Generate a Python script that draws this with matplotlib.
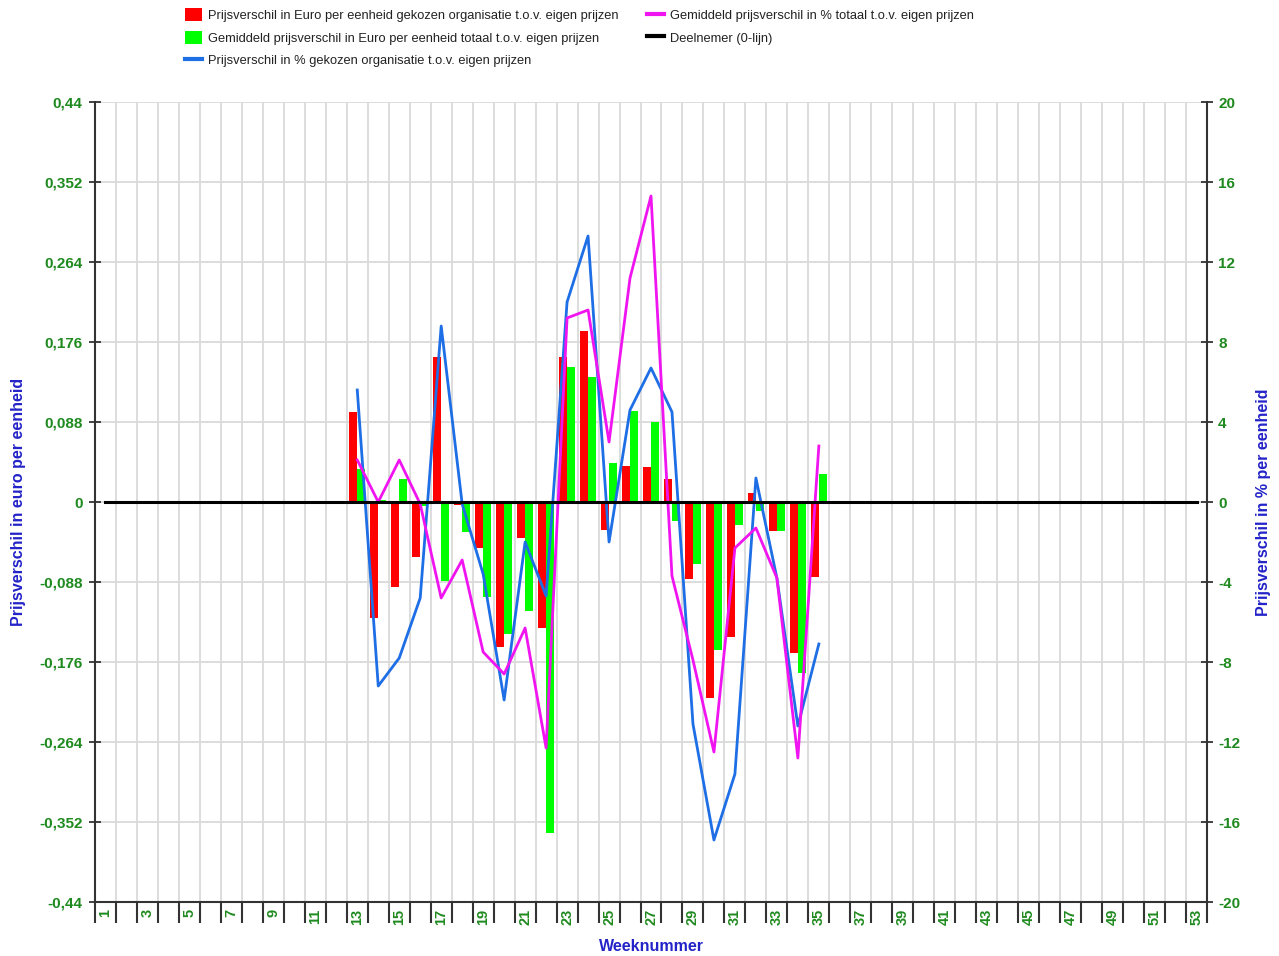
import matplotlib
matplotlib.use("Agg")
import matplotlib.pyplot as plt
from matplotlib.patches import Patch
from matplotlib.lines import Line2D
from matplotlib.ticker import FixedLocator

# ── Data ───────────────────────────────────────────────────────────────────────
weeks = [13, 14, 15, 16, 17, 18, 19, 20, 21, 22, 23, 24,
         25, 26, 27, 28, 29, 30, 31, 32, 33, 34, 35]

# Prijsverschil in Euro per eenheid gekozen organisatie (left axis)
euro_org = [0.099, -0.128, -0.094, -0.060, 0.159, -0.003, -0.051, -0.159,
            -0.040, -0.139, 0.160, 0.188, -0.031, 0.040, 0.038, 0.025,
            -0.085, -0.216, -0.148, 0.010, -0.032, -0.166, -0.083]

# Gemiddeld prijsverschil in Euro per eenheid totaal (left axis)
euro_avg = [0.036, 0.002, 0.025, -0.004, -0.087, -0.033, -0.105, -0.145,
            -0.120, -0.364, 0.148, 0.137, 0.043, 0.100, 0.088, -0.021,
            -0.068, -0.163, -0.025, -0.010, -0.032, -0.188, 0.031]

# Prijsverschil in % gekozen organisatie (right axis)
pct_org = [5.6, -9.2, -7.8, -4.8, 8.8, -0.1, -3.6, -9.9, -2.0, -4.7, 10.0, 13.3,
           -2.0, 4.6, 6.7, 4.5, -11.1, -16.9, -13.6, 1.2, -3.8, -11.2, -7.1]

# Gemiddeld prijsverschil in % totaal (right axis)
pct_avg = [2.1, 0.0, 2.1, -0.1, -4.8, -2.9, -7.5, -8.6, -6.3, -12.3, 9.2, 9.6,
           3.0, 11.2, 15.3, -3.7, -7.9, -12.5, -2.3, -1.3, -3.8, -12.8, 2.8]

all_weeks = list(range(1, 54))
zero_line = [0] * len(all_weeks)

left_ticks = [0.44, 0.352, 0.264, 0.176, 0.088, 0, -0.088, -0.176, -0.264, -0.352, -0.44]
left_labels = ["0,44", "0,352", "0,264", "0,176", "0,088", "0",
               "-0,088", "-0,176", "-0,264", "-0,352", "-0,44"]
right_ticks = [20, 16, 12, 8, 4, 0, -4, -8, -12, -16, -20]

LABELS = [
    "Prijsverschil in Euro per eenheid gekozen organisatie t.o.v. eigen prijzen",
    "Gemiddeld prijsverschil in Euro per eenheid totaal t.o.v. eigen prijzen",
    "Prijsverschil in % gekozen organisatie t.o.v. eigen prijzen",
    "Gemiddeld prijsverschil in % totaal t.o.v. eigen prijzen",
    "Deelnemer (0-lijn)",
]

# ── Style ──────────────────────────────────────────────────────────────────────
RED = "#ff0000"
GREEN = "#00ff00"
BLUE = "#1e6ee6"
MAGENTA = "#f014f0"
TICK_GREEN = "#1f8a1f"
TITLE_BLUE = "#2323c8"
GRID = "#dadada"
SPINE = "#333333"

plt.rcParams["font.family"] = ["Liberation Sans", "DejaVu Sans"]

fig = plt.figure(figsize=(12.79, 9.56), dpi=100)
ax = fig.add_axes([95 / 1279, 1 - 902 / 956, (1207 - 95) / 1279, 800 / 956])
ax2 = ax.twinx()

# bars
bar_w = 0.38
ax.bar([w - 0.2 for w in weeks], euro_org, width=bar_w, color=RED, zorder=2)
ax.bar([w + 0.2 for w in weeks], euro_avg, width=bar_w, color=GREEN, zorder=2)

# lines on right axis
ax2.plot(weeks, pct_org, color=BLUE, lw=2.0, zorder=3)
ax2.plot(weeks, pct_avg, color=MAGENTA, lw=2.0, zorder=3)
ax2.plot(all_weeks, zero_line, color="black", lw=2.2, zorder=4)

# axes ranges
ax.set_xlim(0.5, 53.5)
ax.set_ylim(-0.44, 0.44)
ax2.set_ylim(-20, 20)

# x ticks: labels on odd weeks, tick marks at week boundaries
ax.xaxis.set_major_locator(FixedLocator(list(range(1, 54, 2))))
ax.set_xticklabels([str(w) for w in range(1, 54, 2)], rotation=90,
                   color=TICK_GREEN, fontsize=10.5, fontweight="bold")
ax.xaxis.set_minor_locator(FixedLocator([w + 0.5 for w in range(0, 54)]))
ax.tick_params(axis="x", which="major", length=0, pad=5)
ax.tick_params(axis="x", which="minor", length=15, width=1.5, color=SPINE, direction="out")

# y ticks
ax.set_yticks(left_ticks)
ax.set_yticklabels(left_labels, color=TICK_GREEN, fontsize=11, fontweight="bold")
ax.tick_params(axis="y", length=8, width=1.3, color=SPINE, direction="inout", pad=5)
ax2.set_yticks(right_ticks)
ax2.set_yticklabels([str(t) for t in right_ticks], color=TICK_GREEN,
                    fontsize=11, fontweight="bold")
ax2.tick_params(axis="y", length=8, width=1.3, color=SPINE, direction="inout", pad=4)

# grid
ax.set_axisbelow(True)
ax.grid(True, which="minor", axis="x", color=GRID, lw=1.3)
ax.grid(True, which="major", axis="y", color=GRID, lw=1.3)

# spines
for a in (ax, ax2):
    a.spines["top"].set_visible(False)
    for s in ("left", "right", "bottom"):
        a.spines[s].set_color(SPINE)
        a.spines[s].set_linewidth(1.5)
ax.spines["right"].set_visible(False)
ax2.spines["left"].set_visible(False)
ax2.spines["bottom"].set_visible(False)

# axis titles
ax.set_xlabel("Weeknummer", color=TITLE_BLUE, fontsize=11.5, fontweight="bold", labelpad=8)
ax.set_ylabel("Prijsverschil in euro per eenheid", color=TITLE_BLUE,
              fontsize=11.5, fontweight="bold", labelpad=9)
ax2.set_ylabel("Prijsverschil in % per eenheid", color=TITLE_BLUE,
               fontsize=11.5, fontweight="bold", labelpad=11)

# legend, two columns placed separately
h_red = Patch(facecolor=RED, edgecolor="none")
h_green = Patch(facecolor=GREEN, edgecolor="none")
h_blue = Line2D([], [], color=BLUE, lw=3)
h_mag = Line2D([], [], color=MAGENTA, lw=3)
h_blk = Line2D([], [], color="black", lw=3)

leg_kw = dict(frameon=False, fontsize=9.3, handlelength=1.3, handleheight=1.1,
              handletextpad=0.45, labelspacing=0.7, borderpad=0, borderaxespad=0,
              labelcolor="#222222", loc="upper left")
fig.legend([h_red, h_green, h_blue], LABELS[:3],
           bbox_to_anchor=(185 / 1279, 1 - 8.5 / 956), **leg_kw)
fig.legend([h_mag, h_blk], LABELS[3:],
           bbox_to_anchor=(647 / 1279, 1 - 8.5 / 956), **leg_kw)

fig.savefig("out.png", dpi=100, facecolor="white")
plt.close(fig)
